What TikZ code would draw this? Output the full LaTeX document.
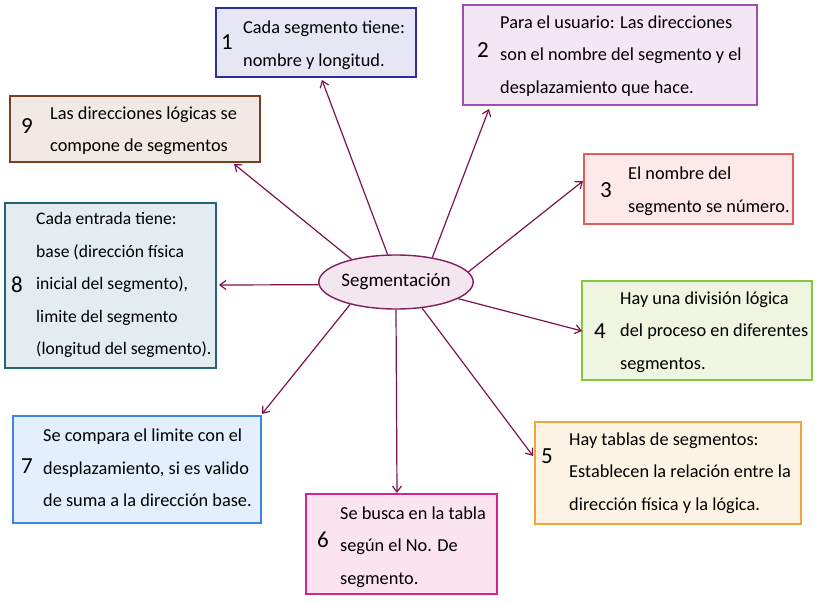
\documentclass[tikz,border=0pt]{standalone}
\usepackage{fontspec}
\setmainfont{Carlito}
\usepackage{tikz}
\usetikzlibrary{shapes.geometric, arrows.meta}

\definecolor{arrowc}{HTML}{7A1450}
\definecolor{ellb}{HTML}{7E1F5E}
\definecolor{ellf}{HTML}{F4E6EE}

\begin{document}
\begin{tikzpicture}[x=1pt, y=-1pt,
    box/.style={draw, line width=1.4pt, rectangle, inner sep=0pt},
    txt/.style={anchor=west, align=left, inner sep=0pt,
      font=\fontsize{18.3}{32.5}\selectfont},
    num/.style={inner sep=0pt, font=\fontsize{23}{23}\selectfont},
    link/.style={-{Straight Barb[length=6pt, width=9pt]}, draw=arrowc, line width=1.2pt}]
      \useasboundingbox (0,0) rectangle (827,604);

      \node[draw=ellb, fill=ellf, line width=1.4pt, ellipse, minimum width=152pt,
        minimum height=54pt, inner sep=0pt, font=\fontsize{19}{20}\selectfont]
        (seg) at (396,282) {Segmentación};

      \node[box, draw={rgb,255:red,46;green,46;blue,158}, fill={rgb,255:red,230;green,230;blue,245},
        minimum width=200pt, minimum height=69pt] (b1) at (316,42.5) {};
      \node[num] (n1) at (227,42) {1};
      \node[txt] (t1) at (243,45) {Cada segmento tiene:\\nombre y longitud.};

      \node[box, draw={rgb,255:red,158;green,79;blue,176}, fill={rgb,255:red,242;green,231;blue,243},
        minimum width=294pt, minimum height=100pt] (b2) at (610,55) {};
      \node[num] (n2) at (483,50) {2};
      \node[txt] (t2) at (500,56) {Para el usuario: Las direcciones\\son el nombre del segmento y el\\desplazamiento que hace.};

      \node[box, draw={rgb,255:red,227;green,93;blue,93}, fill={rgb,255:red,253;green,233;blue,233},
        minimum width=209pt, minimum height=70pt] (b3) at (688.5,189) {};
      \node[num] (n3) at (606,190) {3};
      \node[txt] (t3) at (628,191) {El nombre del\\segmento se número.};

      \node[box, draw={rgb,255:red,134;green,197;blue,64}, fill={rgb,255:red,238;green,245;blue,225},
        minimum width=230pt, minimum height=99pt] (b4) at (697,330.5) {};
      \node[num] (n4) at (600,331) {4};
      \node[txt] (t4) at (620,332) {Hay una división lógica\\del proceso en diferentes\\segmentos.};

      \node[box, draw={rgb,255:red,242;green,163;blue,58}, fill={rgb,255:red,253;green,243;blue,228},
        minimum width=266pt, minimum height=102pt] (b5) at (668,473) {};
      \node[num] (n5) at (547,456) {5};
      \node[txt] (t5) at (569,473) {Hay tablas de segmentos:\\Establecen la relación entre la\\dirección física y la lógica.};

      \node[box, draw={rgb,255:red,214;green,36;blue,143}, fill={rgb,255:red,251;green,227;blue,240},
        minimum width=191pt, minimum height=100pt] (b6) at (401.5,544) {};
      \node[num] (n6) at (323,540) {6};
      \node[txt] (t6) at (340,547) {Se busca en la tabla\\según el No. De\\segmento.};

      \node[box, draw={rgb,255:red,58;green,134;blue,224}, fill={rgb,255:red,227;green,239;blue,252},
        minimum width=248pt, minimum height=107pt] (b7) at (137,469.5) {};
      \node[num] (n7) at (27,466) {7};
      \node[txt] (t7) at (43,468) {Se compara el limite con el\\desplazamiento, si es valido\\de suma a la dirección base.};

      \node[box, draw={rgb,255:red,36;green,100;blue,115}, fill={rgb,255:red,227;green,237;blue,240},
        minimum width=211pt, minimum height=165pt] (b8) at (110.5,285.5) {};
      \node[num] (n8) at (17,285) {8};
      \node[txt, font=\fontsize{17.6}{32.5}\selectfont] (t8) at (36,285) {Cada entrada tiene:\\base (dirección física\\inicial del segmento),\\limite del segmento\\(longitud del segmento).};

      \node[box, draw={rgb,255:red,123;green,63;blue,30}, fill={rgb,255:red,241;green,233;blue,230},
        minimum width=250pt, minimum height=66pt] (b9) at (135,129) {};
      \node[num] (n9) at (27,126) {9};
      \node[txt] (t9) at (50,130.5) {Las direcciones lógicas se\\compone de segmentos};

      \coordinate (e1) at (322,80);
      \coordinate (e2) at (489,109);
      \coordinate (e3) at (583,181);
      \coordinate (e4) at (582,331);
      \coordinate (e5) at (533,456);
      \coordinate (e6) at (397,493);
      \coordinate (e7) at (262,414);
      \coordinate (e8) at (219,285);
      \coordinate (e9) at (234,164);

      \draw[link] (seg.107) -- (e1);
      \draw[link] (seg.34) -- (e2);
      \draw[link] (seg.8) -- (e3);
      \draw[link] (seg.-15) -- (e4);
      \draw[link] (seg.-45) -- (e5);
      \draw[link] (seg.-90) -- (e6);
      \draw[link] (seg.206) -- (e7);
      \draw[link] (seg.182) -- (e8);
      \draw[link] (seg.153) -- (e9);
    \end{tikzpicture}
\end{document}
